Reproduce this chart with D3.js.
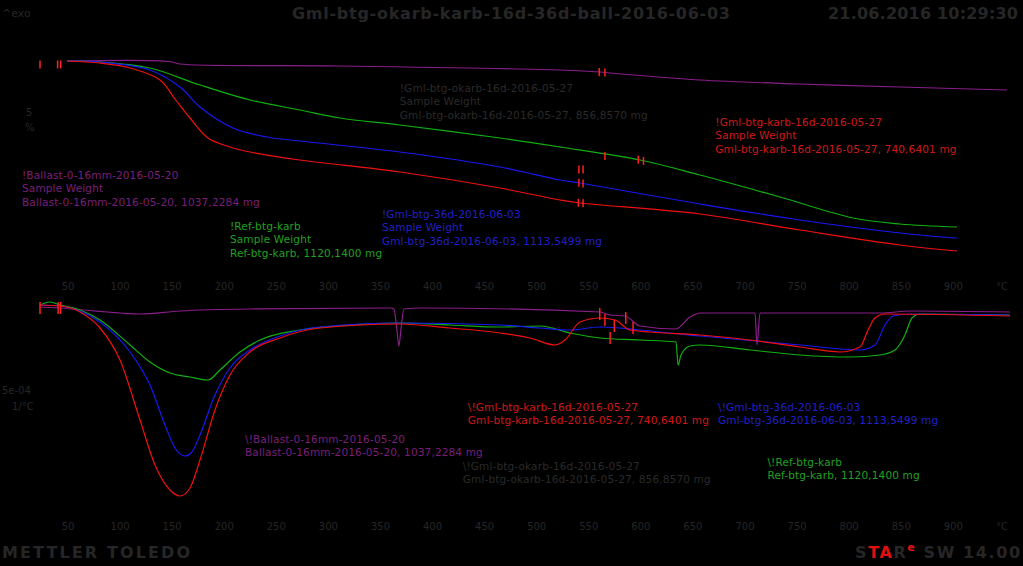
<!DOCTYPE html>
<html><head><meta charset="utf-8">
<script src="https://cdn.jsdelivr.net/npm/d3@7/dist/d3.min.js"></script>
<style>
html,body{margin:0;padding:0;background:#000;}
svg{display:block;}
</style></head>
<body>
<svg id="c" width="1023" height="566"></svg>
<script>
// ---------- DATA ----------
const tickTemps = [50,100,150,200,250,300,350,400,450,500,550,600,650,700,750,800,850,900];
const unitLabel = "°C";

// TGA (weight %) vs temperature (°C)
const tgaBallastT = [49.5,148,158,311.6,522.9,561.3,570.9,657.3,753.3,849.3,952];
const tgaBallastW = [100,99.9,99.4,99.0,98.2,97.8,97.6,96.2,95.4,94.8,94.2];
const tgaRefT = [49.5,81.2,129.2,177.2,225.2,273.2,311.6,369.2,465.3,522.9,599.7,657.3,734.1,804.2,849.3,904];
const tgaRefW = [100,99.8,98.6,95.2,92.2,90.2,88.6,87.2,84.6,82.8,80.2,77.2,72.8,68.6,67.4,66.8];
const tga36T = [49.5,81.2,129.2,158,177.2,208.9,241.5,273.2,369.2,465.3,522.9,542.1,657.3,753.3,849.3,904];
const tga36W = [100,99.8,98.2,94.8,90.8,86.6,84.8,84.0,81.8,78.8,76.2,75.6,71.4,68.2,65.6,64.6];
const tga16T = [49.5,81.2,110,138.8,153.2,167.6,184.9,206,225.2,273.2,369.2,465.3,522.9,542.1,657.3,753.3,849.3,904];
const tga16W = [100,99.6,98.6,96.2,92.4,88.6,84.6,82.8,81.8,80.2,77.8,74.6,72.2,71.6,69.4,66.2,63.2,62.0];

// DTG (1e-4 1/°C) vs temperature (°C)
const dtgBallastT = [23.6,42.8,100.4,119.6,158,225.2,359.6,363.4,366.3,368.2,370.1,373,390,561.3,570.9,585.3,599.7,634,647.7,657.3,710.1,712,714.9,720,830,860,954.9];
const dtgBallastV = [0.05,0,-0.25,-0.3,-0.15,-0.05,0,-0.05,-1.1,-1.9,-1.1,-0.05,0,-0.2,-0.35,-0.4,-0.9,-1.05,-0.45,-0.25,-0.25,-1.85,-0.25,-0.25,-0.25,-0.15,-0.2];
const dtgRefT = [23.6,33.2,42.8,62,81.2,110,129.2,148.4,167.6,184.9,196.4,215.6,234.8,273.2,321.2,369.2,417.3,465.3,503.7,532.5,561.3,599.7,634.3,636.2,639,647.7,657.3,705.3,753.3,801.3,830.1,844.5,854.1,860.8,868.4,954.9];
const dtgRefV = [0.15,0.3,0.15,-0.1,-0.6,-1.85,-2.7,-3.25,-3.45,-3.6,-3.1,-2.2,-1.6,-1.1,-0.85,-0.75,-0.85,-0.95,-0.9,-1.25,-1.5,-1.6,-1.7,-2.85,-2.35,-1.9,-1.85,-2.1,-2.35,-2.45,-2.35,-2.1,-1.35,-0.5,-0.3,-0.35];
const dtg36T = [23.6,42.8,62,81.2,110,129.2,143.6,153.2,162.8,169.5,177.2,191.6,206,225.2,254,292.4,369.2,465.3,503.7,532.5,561.3,599.7,657.3,753.3,810.9,825.3,834.9,842.6,858.9,954.9];
const dtg36V = [0.15,0.1,-0.15,-0.7,-2.2,-3.85,-5.85,-7,-7.4,-7.2,-6.35,-4.35,-3,-2.1,-1.4,-0.95,-0.75,-0.85,-1.0,-1.1,-0.95,-1.1,-1.4,-1.85,-2.1,-1.85,-0.85,-0.4,-0.3,-0.35];
const dtg16T = [23.6,42.8,62,81.2,100.4,119.6,134,148.4,158,167.6,177.2,191.6,206,225.2,254,292.4,369.2,417.3,465.3,494.1,518.1,527.7,542.1,561.3,575.7,590.1,609.3,657.3,705.3,753.3,791.7,810.9,818.6,825.3,834.9,954.9];
const dtg16V = [0.15,0.1,-0.2,-1,-2.6,-5.6,-7.85,-9.1,-9.4,-9,-7.6,-5.1,-3.35,-2.2,-1.5,-1,-0.8,-1,-1.25,-1.5,-1.85,-1.6,-0.7,-0.5,-0.6,-1.1,-1.2,-1.35,-1.6,-1.95,-2.2,-1.95,-1.1,-0.5,-0.3,-0.4];

// evaluation limit markers (temperature) on curves
const markTopT = [[560.5,"ballast"],[566,"ballast"],[541,"36"],[545,"36"],[540.5,"16"],[545,"16"],[598,"ref"],[603,"ref"]];
const markTopFree = [[23.6,99.3],[40.5,99.3],[43.5,99.3],[566,81],[541,78.3],[545,78.3]];
const markBotT = [[23.6,0],[41,0],[43.5,0],[561,-0.3],[566,-0.6],[571,-1.5],[575,-0.9],[586,-0.5],[593,-1.0]];

// annotation texts
const annTop = [
  {lines:["!Gml-btg-okarb-16d-2016-05-27","Sample Weight","Gml-btg-okarb-16d-2016-05-27, 856,8570 mg"], color:"#2a2a2a", T:369, w:93.8},
  {lines:["!Gml-btg-karb-16d-2016-05-27","Sample Weight","Gml-btg-karb-16d-2016-05-27, 740,6401 mg"], color:"#d01818", T:672, w:87.0},
  {lines:["!Ballast-0-16mm-2016-05-20","Sample Weight","Ballast-0-16mm-2016-05-20, 1037,2284 mg"], color:"#7a1f7a", T:6.3, w:76.4},
  {lines:["!Ref-btg-karb","Sample Weight","Ref-btg-karb, 1120,1400 mg"], color:"#20a020", T:206, w:66.2},
  {lines:["!Gml-btg-36d-2016-06-03","Sample Weight","Gml-btg-36d-2016-06-03, 1113,5499 mg"], color:"#2020c8", T:351.9, w:68.6}
];
const annBot = [
  {lines:["\\!Gml-btg-karb-16d-2016-05-27","Gml-btg-karb-16d-2016-05-27, 740,6401 mg"], color:"#d01818", T:434.3, v:-5.15},
  {lines:["\\!Gml-btg-36d-2016-06-03","Gml-btg-36d-2016-06-03, 1113,5499 mg"], color:"#2020c8", T:674.6, v:-5.15},
  {lines:["\\!Ballast-0-16mm-2016-05-20","Ballast-0-16mm-2016-05-20, 1037,2284 mg"], color:"#7a1f7a", T:220.4, v:-6.75},
  {lines:["\\!Gml-btg-okarb-16d-2016-05-27","Gml-btg-okarb-16d-2016-05-27, 856,8570 mg"], color:"#2a2a2a", T:429.5, v:-8.1},
  {lines:["\\!Ref-btg-karb","Ref-btg-karb, 1120,1400 mg"], color:"#20a020", T:722, v:-7.9}
];

// ---------- DRAW ----------
const svg = d3.select("#c");
svg.append("rect").attr("width",1023).attr("height",566).attr("fill","#000");

const x = d3.scaleLinear().domain([50,900]).range([67.5,952.8]);
const yTop = d3.scaleLinear().domain([100,60]).range([61,261]);
const yBot = d3.scaleLinear().domain([0,-10]).range([308,508]);

const dark = "#262626";
const font = "'DejaVu Sans', sans-serif";

// header
svg.append("text").attr("x",2).attr("y",17).attr("fill",dark).attr("font-family",font).attr("font-size",11).text("^exo");
svg.append("text").attr("x",292).attr("y",19).attr("fill",dark).attr("font-family",font).attr("font-size",16).attr("font-weight","bold")
  .attr("textLength",438).text("Gml-btg-okarb-karb-16d-36d-ball-2016-06-03");
svg.append("text").attr("x",1018).attr("y",19).attr("text-anchor","end").attr("fill",dark).attr("font-family",font).attr("font-size",16).attr("font-weight","bold")
  .attr("textLength",190).text("21.06.2016 10:29:30");

// y unit labels
svg.append("text").attr("x",26).attr("y",116).attr("fill",dark).attr("font-family",font).attr("font-size",10).text("5");
svg.append("text").attr("x",25).attr("y",131).attr("fill",dark).attr("font-family",font).attr("font-size",10).text("%");
svg.append("text").attr("x",2).attr("y",394).attr("fill",dark).attr("font-family",font).attr("font-size",10).text("5e-04");
svg.append("text").attr("x",12).attr("y",410).attr("fill",dark).attr("font-family",font).attr("font-size",10).text("1/°C");

// x axes (tick labels only)
function axisAt(yPos){
  const ax = d3.axisBottom(x).tickValues(tickTemps).tickSize(0).tickPadding(0).tickFormat(d3.format("d"));
  const g = svg.append("g").attr("transform",`translate(0,${yPos})`).call(ax);
  g.select(".domain").remove();
  g.selectAll("text").attr("fill",dark).attr("font-family",font).attr("font-size",10).attr("dy","0");
  g.append("text").attr("x",1002).attr("y",0).attr("fill",dark).attr("font-family",font).attr("font-size",10).attr("text-anchor","middle").text(unitLabel);
}
axisAt(290);
axisAt(530);

// curves
const lineTop = d3.line().x(d=>x(d[0])).y(d=>yTop(d[1])).curve(d3.curveCatmullRom.alpha(0.5));
const lineBot = d3.line().x(d=>x(d[0])).y(d=>yBot(d[1])).curve(d3.curveMonotoneX);
const zip = (a,b)=>a.map((v,i)=>[v,b[i]]);

const colors = {ballast:"#8a1e8a", ref:"#10b010", "36":"#1818f0", "16":"#f01010"};
const topSeries = [["ballast",tgaBallastT,tgaBallastW],["ref",tgaRefT,tgaRefW],["36",tga36T,tga36W],["16",tga16T,tga16W]];
const botSeries = [["ballast",dtgBallastT,dtgBallastV],["ref",dtgRefT,dtgRefV],["36",dtg36T,dtg36V],["16",dtg16T,dtg16V]];

topSeries.forEach(([k,T,W])=>{
  svg.append("path").datum(zip(T,W)).attr("d",lineTop).attr("fill","none").attr("stroke",colors[k]).attr("stroke-width",1.2);
});
botSeries.forEach(([k,T,V])=>{
  svg.append("path").datum(zip(T,V)).attr("d",lineBot).attr("fill","none").attr("stroke",colors[k]).attr("stroke-width",1.2);
});

// markers
function interp(Ts,Vs,t){ return d3.scaleLinear().domain(Ts).range(Vs)(t); }
const topMap = {ballast:[tgaBallastT,tgaBallastW],ref:[tgaRefT,tgaRefW],"36":[tga36T,tga36W],"16":[tga16T,tga16W]};
function tick(xx,yy,h){
  svg.append("line").attr("x1",xx).attr("x2",xx).attr("y1",yy-h).attr("y2",yy+h).attr("stroke","#ff2020").attr("stroke-width",1.5);
}
markTopT.forEach(([t,k])=>tick(x(t), yTop(interp(topMap[k][0],topMap[k][1],t)), 4));
markTopFree.forEach(([t,w])=>tick(x(t), yTop(w), 4));
markBotT.forEach(([t,v])=>tick(x(t), yBot(v), 6));

// annotations
function ann(a, yScale, val, step){
  const t = svg.append("text").attr("fill",a.color).attr("font-family",font).attr("font-size",10.5).attr("letter-spacing","0.15px");
  a.lines.forEach((l,i)=>{
    t.append("tspan").attr("x",x(a.T)).attr("y",yScale(val)+i*step).text(l);
  });
}
annTop.forEach(a=>ann(a,yTop,a.w,13.3));
annBot.forEach(a=>ann(a,yBot,a.v,13.3));

// footer
svg.append("text").attr("x",2).attr("y",558).attr("fill",dark).attr("font-family",font).attr("font-size",16).attr("font-weight","bold")
  .attr("textLength",188).text("METTLER TOLEDO");
const f = svg.append("text").attr("x",855).attr("y",558).attr("font-family",font).attr("font-size",16).attr("font-weight","bold").attr("letter-spacing","1.6px");
f.append("tspan").attr("fill",dark).text("S");
f.append("tspan").attr("fill","#e01010").text("TA");
f.append("tspan").attr("fill",dark).text("R");
f.append("tspan").attr("fill","#e01010").attr("font-size",11).attr("dy",-7).text("e");
f.append("tspan").attr("fill",dark).attr("dy",7).text(" SW 14.00");
</script>
</body></html>
